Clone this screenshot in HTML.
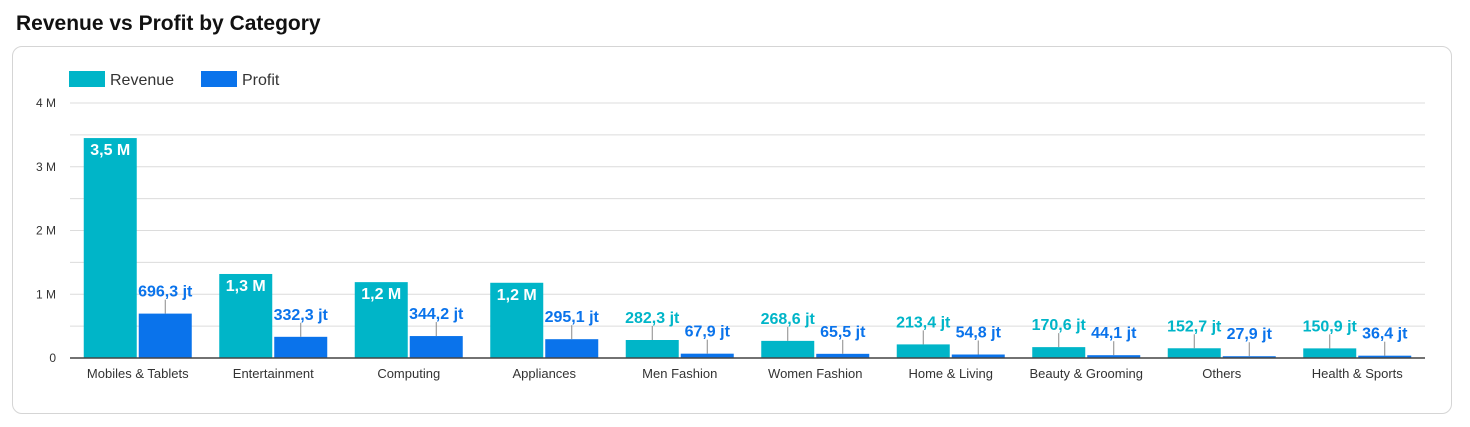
<!DOCTYPE html>
<html><head><meta charset="utf-8"><style>
body{margin:0;background:#fff;width:1470px;height:427px;overflow:hidden;font-family:"Liberation Sans",sans-serif}
#title{position:absolute;left:16px;top:12px;font-size:21px;font-weight:bold;color:#111}
#card{position:absolute;left:12px;top:46px;width:1438px;height:366px;border:1px solid #d5d5d5;border-radius:10px}
svg{position:absolute;left:0;top:0}
</style></head><body>
<div id="title">Revenue vs Profit by Category</div>
<div id="card"></div>
<svg id="chart" width="1470" height="427"></svg>
<script>
const categories=["Mobiles & Tablets","Entertainment","Computing","Appliances","Men Fashion","Women Fashion","Home & Living","Beauty & Grooming","Others","Health & Sports"];
const revenue=[3.45,1.318,1.19,1.18,0.2823,0.2686,0.2134,0.1706,0.1527,0.1509];
const profit=[0.6963,0.3323,0.3442,0.2951,0.0679,0.0655,0.0548,0.0441,0.0279,0.0364];
const yTicks=[0,1,2,3,4];
const yTickLabels=["0","1 M","2 M","3 M","4 M"];
const seriesNames=["Revenue","Profit"];
const colors=["#00b5c8","#0a73eb"];
const NS="http://www.w3.org/2000/svg";
const svg=document.getElementById('chart');
const x0=70,x1=1425,yBase=358,yTop=103,yMax=4;
const y=v=>yBase-(v/yMax)*(yBase-yTop);
const band=(x1-x0)/categories.length;
const bx=i=>x0+i*band;
function mk(t,a){const e=document.createElementNS(NS,t);for(const k in a)e.setAttribute(k,a[k]);svg.appendChild(e);return e;}
function fmt(v){return v>=1?(v.toFixed(1).replace('.',',')+' M'):((v*1000).toFixed(1).replace('.',',')+' jt');}
for(let k=0;k<=8;k++){const g=mk('line',{x1:x0,x2:x1,y1:y(k/2),y2:y(k/2),stroke:'#dcdcdc','stroke-width':1});

}
yTicks.forEach((t,i)=>{const e=mk('text',{x:56,y:y(t)+4,'text-anchor':'end','font-size':12,fill:'#333'});e.textContent=yTickLabels[i];

});
seriesNames.forEach((n,i)=>{const lx=69+i*132;
const r=mk('rect',{x:lx,y:71,width:36,height:16,fill:colors[i]});


const t=mk('text',{x:lx+41,y:85,'font-size':16,fill:'#333'});t.textContent=n;

});
const bw=53;
categories.forEach((c,i)=>{
 const cx=bx(i)+band/2;
 [revenue[i],profit[i]].forEach((v,s)=>{
  const left=s===0?cx-54:cx+1;
  const top=y(v);
  const r=mk('rect',{x:left,y:top,width:bw,height:yBase-top,fill:colors[s]});
  
  
  let t;
  if(yBase-top>60){
   t=mk('text',{x:left+bw/2,y:top+17,'text-anchor':'middle','font-size':16,'font-weight':'bold',fill:'#fff'});
  }else{
   const l=mk('line',{x1:left+bw/2,x2:left+bw/2,y1:top,y2:top-14,stroke:'#888','stroke-width':1});
   
   
   t=mk('text',{x:left+bw/2,y:top-17,'text-anchor':'middle','font-size':16,'font-weight':'bold',fill:s===0?'#00b5c8':'#0a73eb'});
  }
  t.textContent=fmt(v);
  
  
 });
 const lb=mk('text',{x:cx,y:378,'text-anchor':'middle','font-size':13,fill:'#333'});lb.textContent=c;
 
 
});
const ax=mk('line',{x1:x0,x2:x1,y1:yBase,y2:yBase,stroke:'#444','stroke-width':1.5});


</script>
</body></html>
